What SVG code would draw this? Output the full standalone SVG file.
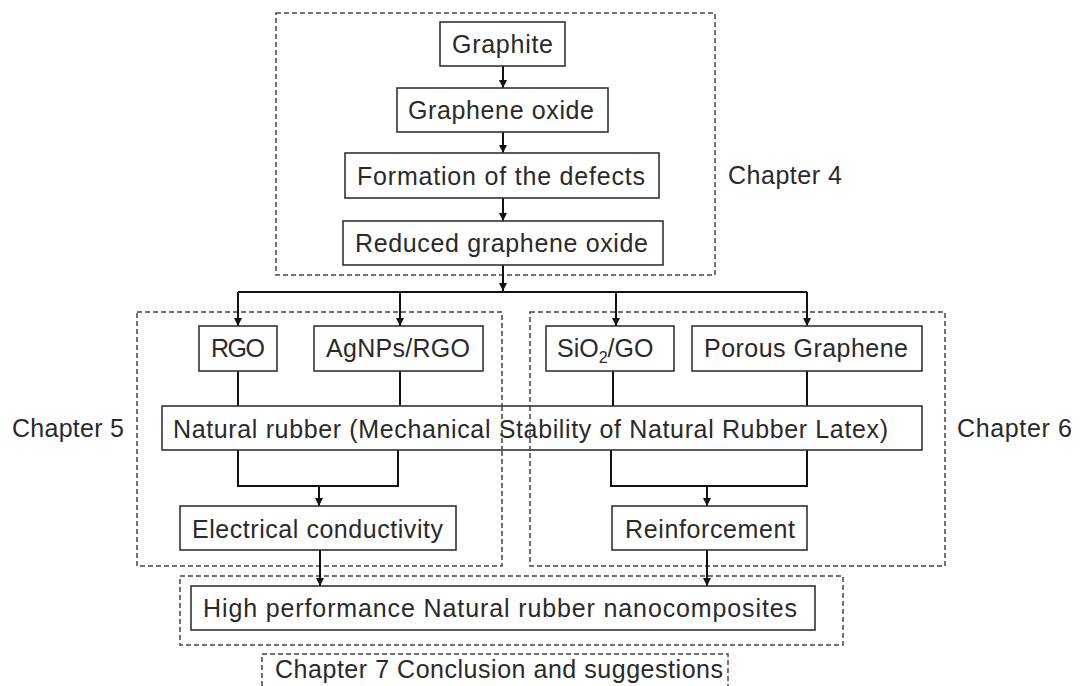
<svg xmlns="http://www.w3.org/2000/svg" width="1082" height="686" viewBox="0 0 1082 686">
<defs>
<marker id="arr" viewBox="0 0 8 11" refX="8" refY="5.5" markerWidth="9" markerHeight="11" markerUnits="userSpaceOnUse" orient="auto">
<path d="M0,1.5 L8,5.5 L0,9.5 Z" fill="#111"/>
</marker>
</defs>
<style>
text{font-family:"Liberation Sans",Arial,sans-serif;font-size:25px;fill:#2a2a2a}
.box{fill:#fff;stroke:#333;stroke-width:1.6}
.dash{fill:none;stroke:#444;stroke-width:1.5;stroke-dasharray:5 3}
.c{fill:none;stroke:#111;stroke-width:2}
.ca{fill:none;stroke:#111;stroke-width:2;marker-end:url(#arr)}
</style>
<rect width="1082" height="686" fill="#fff"/>
<g id="chapter4"><rect class="dash" x="276" y="13" width="439" height="262"/><text x="728" y="184" textLength="114">Chapter 4</text></g>
<g id="chapter5"><rect class="dash" x="137" y="312" width="365" height="254"/><text x="12" y="437" textLength="112">Chapter 5</text></g>
<g id="chapter6"><rect class="dash" x="530" y="312" width="415" height="254"/><text x="957" y="437" textLength="115">Chapter 6</text></g>
<g id="final"><rect class="dash" x="180" y="576" width="663" height="69"/></g>
<g id="chapter7"><rect class="dash" x="262" y="654" width="466" height="50"/><text x="275" y="678" textLength="448">Chapter 7 Conclusion and suggestions</text></g>
<g id="connectors">
<path class="ca" d="M503,66 V88"/>
<path class="ca" d="M503,132 V153"/>
<path class="ca" d="M503,198 V221"/>
<path class="ca" d="M503,265 V291"/>
<path class="c" d="M238,292 H807"/>
<path class="ca" d="M238,292 V326"/>
<path class="ca" d="M400,292 V326"/>
<path class="ca" d="M616,292 V326"/>
<path class="ca" d="M807,292 V326"/>
<path class="c" d="M238,371 V406"/>
<path class="c" d="M400,371 V406"/>
<path class="c" d="M613,371 V406"/>
<path class="c" d="M807,371 V406"/>
<path class="c" d="M238,450 V486 H398 V450"/>
<path class="ca" d="M319,486 V506"/>
<path class="c" d="M611,450 V486 H807 V450"/>
<path class="ca" d="M707,486 V506"/>
<path class="ca" d="M320,550 V586"/>
<path class="ca" d="M707,550 V586"/>
</g>
<g id="graphite"><rect class="box" x="440" y="22" width="125" height="44"/><text x="452" y="53" textLength="101">Graphite</text></g>
<g id="go"><rect class="box" x="397" y="88" width="211" height="44"/><text x="408" y="119" textLength="186">Graphene oxide</text></g>
<g id="defects"><rect class="box" x="345" y="153" width="314" height="45"/><text x="357" y="185" textLength="288">Formation of the defects</text></g>
<g id="rgo-main"><rect class="box" x="343" y="221" width="320" height="44"/><text x="355" y="252" textLength="293">Reduced graphene oxide</text></g>
<g id="rgo"><rect class="box" x="199" y="326" width="78" height="45"/><text x="211" y="357" textLength="54">RGO</text></g>
<g id="agnps"><rect class="box" x="314" y="326" width="169" height="45"/><text x="326" y="357" textLength="144">AgNPs/RGO</text></g>
<g id="sio2"><rect class="box" x="546" y="326" width="128" height="45"/><text x="557" y="357">SiO<tspan font-size="16" dy="6">2</tspan><tspan dy="-6">/GO</tspan></text></g>
<g id="porous"><rect class="box" x="692" y="326" width="230" height="45"/><text x="704" y="357" textLength="204">Porous Graphene</text></g>
<g id="nr"><rect class="box" x="162" y="406" width="760" height="44"/><text x="173" y="438" textLength="715">Natural rubber (Mechanical Stability of Natural Rubber Latex)</text></g>
<path class="dash" d="M502,406 V450 M530,406 V450"/>
<g id="ec"><rect class="box" x="180" y="506" width="276" height="44"/><text x="192" y="538" textLength="251">Electrical conductivity</text></g>
<g id="reinf"><rect class="box" x="612" y="506" width="195" height="44"/><text x="625" y="538" textLength="170">Reinforcement</text></g>
<g id="hpnr"><rect class="box" x="191" y="586" width="624" height="44"/><text x="203" y="617" textLength="594">High performance Natural rubber nanocomposites</text></g>
</svg>
